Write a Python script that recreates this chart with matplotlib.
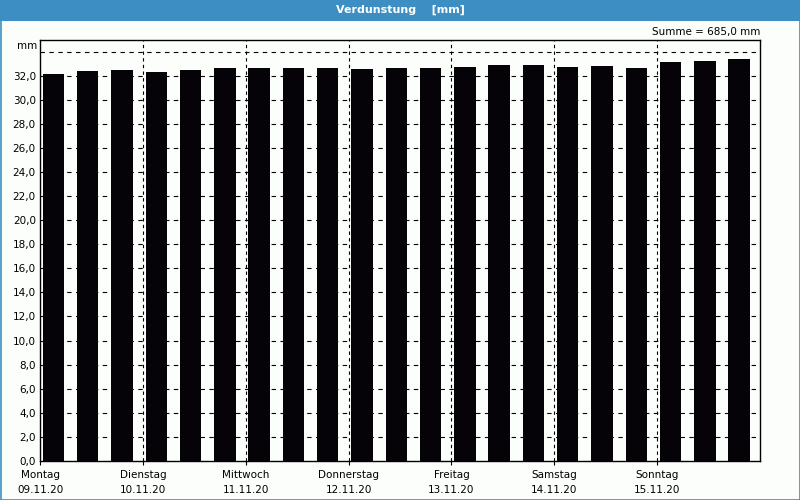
import matplotlib
matplotlib.use("Agg")
import matplotlib.pyplot as plt
from matplotlib.patches import Rectangle

days = ["Montag", "Dienstag", "Mittwoch", "Donnerstag", "Freitag", "Samstag", "Sonntag"]
dates = ["09.11.20", "10.11.20", "11.11.20", "12.11.20", "13.11.20", "14.11.20", "15.11.20"]
values = [32.2, 32.45, 32.53, 32.36, 32.53, 32.7, 32.7, 32.7, 32.7, 32.61, 32.7,
          32.7, 32.78, 32.95, 32.95, 32.78, 32.86, 32.7, 33.2, 33.28, 33.45]
yticks = [0, 2, 4, 6, 8, 10, 12, 14, 16, 18, 20, 22, 24, 26, 28, 30, 32]
title = "Verdunstung    [mm]"
summe = "Summe = 685,0 mm"

plt.rcParams['font.family'] = ['DejaVu Sans']
bg = "#fcfefc"
fig = plt.figure(figsize=(8, 5), dpi=100)
fig.patch.set_facecolor(bg)

blue = "#3d8fc3"
# title bar and border
fig.patches.append(Rectangle((0, 1 - 20.5/500), 1, 20.5/500, transform=fig.transFigure,
                             facecolor=blue, edgecolor="none", zorder=0))
fig.patches.append(Rectangle((0.5/800, 0.5/500), 1 - 1/800, 1 - 1/500, transform=fig.transFigure,
                             facecolor="none", edgecolor=blue, linewidth=1.2, zorder=1))
fig.text(0.5, 1 - 10/500, title, color="white", fontsize=8, fontweight="bold",
         ha="center", va="center")

ax = fig.add_axes([40/800, 1 - 460.7/500, 720/800, 420.7/500])
ax.set_facecolor(bg)
n_per_day = 3
slot = 1.0 / n_per_day
offset = 0.026
width = 0.209
xs = [i * slot + offset for i in range(len(values))]
ax.bar(xs, values, width=width, align="edge", color="#050308", zorder=3)

ax.set_xlim(0, len(days))
ax.set_ylim(0, 35)

# grid lines
for y in yticks[1:] + [34]:
    ax.axhline(y, color="black", linestyle=(0, (4, 4)), linewidth=0.8, zorder=1)
for d in range(1, len(days)):
    ax.axvline(d, color="black", linestyle=(0, (3, 3)), linewidth=0.8, zorder=1)

ax.set_yticks(yticks)
ax.set_yticklabels([f"{v:.1f}".replace(".", ",") for v in yticks], fontsize=7.5)
ax.set_xticks(range(len(days)))
ax.set_xticklabels([f"{d}\n{t}" for d, t in zip(days, dates)], fontsize=7.5, linespacing=1.6)
ax.tick_params(axis="y", length=0, pad=3)
ax.tick_params(axis="x", length=3, pad=4, width=0.8)
for s in ax.spines.values():
    s.set_linewidth(1.0)
    s.set_color("black")

fig.text(37/800, 1 - 46/500, "mm", fontsize=7.5, ha="right", va="center")
fig.text(760/800, 1 - 32/500, summe, fontsize=7.5, ha="right", va="center")

fig.savefig("out.png", dpi=100, facecolor=bg)
